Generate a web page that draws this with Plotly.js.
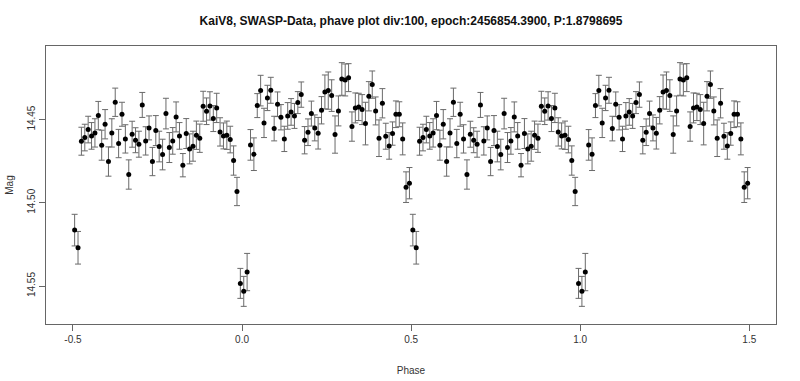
<!DOCTYPE html>
<html>
<head>
<meta charset="utf-8">
<script src="https://cdn.plot.ly/plotly-3.0.1.min.js"></script>
<style>html,body{margin:0;padding:0;background:#fff;}#chart{width:800px;height:381px;}</style>
</head>
<body>
<div id="chart"></div>
<script>
// Phase bins (one cycle); the plot shows each bin twice (phase and phase + 1)
const phase = [
 -0.495,-0.485,-0.475,-0.465,-0.455,-0.445,-0.435,-0.425,-0.415,-0.405,
 -0.395,-0.385,-0.375,-0.365,-0.355,-0.345,-0.335,-0.325,-0.315,-0.305,
 -0.295,-0.285,-0.275,-0.265,-0.255,-0.245,-0.235,-0.225,-0.215,-0.205,
 -0.195,-0.185,-0.175,-0.165,-0.155,-0.145,-0.135,-0.125,-0.115,-0.105,
 -0.095,-0.085,-0.075,-0.065,-0.055,-0.045,-0.035,-0.025,-0.015,-0.005,
  0.005, 0.015, 0.025, 0.035, 0.045, 0.055, 0.065, 0.075, 0.085, 0.095,
  0.105, 0.115, 0.125, 0.135, 0.145, 0.155, 0.165, 0.175, 0.185, 0.195,
  0.205, 0.215, 0.225, 0.235, 0.245, 0.255, 0.265, 0.275, 0.285, 0.295,
  0.305, 0.315, 0.325, 0.335, 0.345, 0.355, 0.365, 0.375, 0.385, 0.395,
  0.405, 0.415, 0.425, 0.435, 0.445, 0.455, 0.465, 0.475, 0.485, 0.495
];
const mag = [
 14.5164,14.5270,14.4630,14.4608,14.4560,14.4598,14.4580,14.4476,14.4654,14.4528,
 14.4752,14.4580,14.4396,14.4644,14.4468,14.4616,14.4830,14.4588,14.4624,14.4648,
 14.4412,14.4628,14.4550,14.4752,14.4566,14.4662,14.4710,14.4464,14.4668,14.4628,
 14.4484,14.4598,14.4774,14.4584,14.4676,14.4660,14.4594,14.4612,14.4420,14.4450,
 14.4418,14.4494,14.4430,14.4574,14.4598,14.4594,14.4620,14.4746,14.4932,14.5484,
 14.5532,14.5416,14.4652,14.4708,14.4416,14.4326,14.4520,14.4370,14.4324,14.4554,
 14.4408,14.4486,14.4616,14.4478,14.4454,14.4478,14.4398,14.4350,14.4624,14.4576,
 14.4464,14.4550,14.4582,14.4444,14.4334,14.4326,14.4356,14.4590,14.4448,14.4256,
 14.4262,14.4248,14.4542,14.4430,14.4424,14.4440,14.4524,14.4360,14.4290,14.4448,
 14.4612,14.4402,14.4600,14.4658,14.4584,14.4468,14.4468,14.4616,14.4906,14.4882
];
const magErr = [
 0.0095,0.0098,0.0084,0.0080,0.0080,0.0080,0.0085,0.0085,0.0090,0.0088,
 0.0088,0.0085,0.0085,0.0085,0.0072,0.0085,0.0088,0.0078,0.0075,0.0078,
 0.0075,0.0085,0.0072,0.0085,0.0090,0.0092,0.0092,0.0092,0.0090,0.0080,
 0.0090,0.0080,0.0070,0.0090,0.0090,0.0090,0.0085,0.0085,0.0090,0.0080,
 0.0085,0.0078,0.0088,0.0085,0.0078,0.0085,0.0080,0.0088,0.0085,0.0090,
 0.0090,0.0112,0.0092,0.0098,0.0072,0.0092,0.0088,0.0076,0.0078,0.0074,
 0.0074,0.0076,0.0076,0.0080,0.0080,0.0075,0.0066,0.0076,0.0082,0.0080,
 0.0075,0.0078,0.0095,0.0082,0.0102,0.0112,0.0095,0.0112,0.0090,0.0098,
 0.0096,0.0084,0.0088,0.0090,0.0082,0.0090,0.0128,0.0088,0.0082,0.0084,
 0.0110,0.0088,0.0078,0.0080,0.0070,0.0080,0.0075,0.0096,0.0092,0.0094
];
const xTicks = [-0.5, 0, 0.5, 1, 1.5];
const xTickText = ['-0.5', '0.0', '0.5', '1.0', '1.5'];
const yTicks = [14.45, 14.50, 14.55];
const yTickText = ['14.45', '14.50', '14.55'];
const titleText = 'KaiV8, SWASP-Data, phave plot div:100, epoch:2456854.3900, P:1.8798695';

const xAll = phase.concat(phase.map(p => p + 1));
const yAll = mag.concat(mag);
const eAll = magErr.concat(magErr);

const FONT = 'Liberation Sans, Arial, sans-serif';
const trace = {
  type: 'scatter', mode: 'markers',
  x: xAll, y: yAll,
  marker: {color: '#000', size: 5},
  error_y: {type: 'data', array: eAll, visible: true, color: '#6a6a6a', thickness: 1, width: 3},
  hoverinfo: 'x+y', showlegend: false
};
const layout = {
  width: 800, height: 381,
  margin: {l: 46, r: 24, t: 46, b: 57},
  paper_bgcolor: '#fff', plot_bgcolor: '#fff',
  font: {family: FONT, size: 10, color: '#222'},
  title: {text: '<b>' + titleText + '</b>', font: {family: FONT, size: 12, color: '#111'},
          x: 0.5, xref: 'paper', y: 1 - 21/381, yref: 'container', yanchor: 'middle'},
  xaxis: {
    range: [-0.5797, 1.5789], tickvals: xTicks, ticktext: xTickText,
    ticks: 'outside', ticklen: 6, tickcolor: '#666', showline: true, mirror: true,
    linecolor: '#666', linewidth: 1, showgrid: false, zeroline: false,
    tickfont: {size: 10, color: '#333'},
    title: {text: 'Phase', font: {size: 10, color: '#333'}, standoff: 22}
  },
  yaxis: {
    range: [14.5728, 14.4058], tickvals: yTicks, ticktext: yTickText, tickangle: -90,
    ticks: 'outside', ticklen: 6, tickcolor: '#666', showline: true, mirror: true,
    linecolor: '#666', linewidth: 1, showgrid: false, zeroline: false,
    tickfont: {size: 10, color: '#333'},
    title: {text: 'Mag', font: {size: 10, color: '#333'}, standoff: 10}
  }
};
Plotly.newPlot('chart', [trace], layout, {displayModeBar: false, staticPlot: true});
</script>
</body>
</html>
